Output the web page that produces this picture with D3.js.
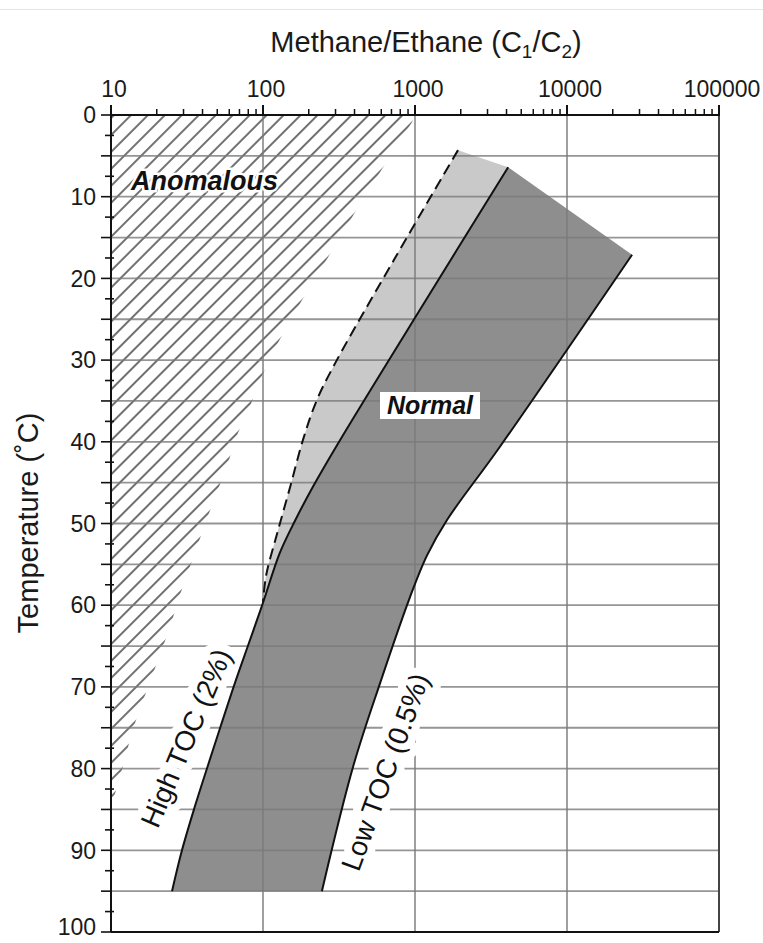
<!DOCTYPE html>
<html>
<head>
<meta charset="utf-8">
<script src="https://cdn.jsdelivr.net/npm/d3@7"></script>
<style>
  html, body { margin: 0; padding: 0; background: #fff; }
  svg { display: block; font-family: "Liberation Sans", Arial, Helvetica, sans-serif; }
</style>
</head>
<body>
<svg id="chart" width="763" height="943"></svg>
<script>
// ---------- data ----------
const xTickValues = [10, 100, 1000, 10000, 100000];
const xTickLabels = ["10", "100", "1000", "10000", "100000"];
const yTickValues = [0, 10, 20, 30, 40, 50, 60, 70, 80, 90, 100];
const yGridValues = [5, 10, 15, 20, 25, 30, 35, 40, 45, 50, 55, 60, 65, 70, 75, 80, 85, 90, 95];
const xGridValues = [100, 1000, 10000];

// [C1/C2, temperature °C]
const highTOC = [[4100, 6.4], [1140, 23.1], [321, 39.8], [213, 45.5], [163, 49.6], [129, 53.6],
  [100, 59.7], [80.9, 64.6], [65.4, 69.5], [52.9, 74.7], [43.1, 79.8], [35.4, 84.8], [29.3, 90],
  [25.2, 95]];
const lowTOC = [[26800, 17.1], [3620, 40.6], [1620, 49.6], [1200, 53.9], [927, 59], [590, 69.5],
  [391, 79.8], [244, 95]];
const upperBound = [[1919, 4.3], [750, 17.3], [298, 30.4], [226, 34.9], [183, 39.8], [151, 45.5],
  [124, 51.2], [105, 56.3], [100, 59.6]];
const anomalous = [[10, 0], [1000, 0], [955, 0.9], [617, 6.4], [403, 11.9], [268, 17.4], [181, 22.6],
  [126, 27.8], [95.6, 32.4], [82, 35.7], [68.5, 38.9], [59, 42.5], [50.4, 45.9], [43, 49.3],
  [27.6, 59.4], [24.5, 62.7], [21, 66], [18, 69.5], [15.5, 72.6], [13.7, 75.6], [12.4, 78.7],
  [11.1, 82], [10, 84.5]];

// ---------- layout ----------
const W = 763, H = 943;
const pL = 111, pR = 719, pT = 115, pB = 932;
const svg = d3.select("#chart");

const x = d3.scaleLog().domain([10, 100000]).range([pL, pR]);
const y = d3.scaleLinear().domain([0, 100]).range([pT, pB]);

const line = d3.line().x(d => x(d[0])).y(d => y(d[1]));
const smooth = d3.line().x(d => x(d[0])).y(d => y(d[1])).curve(d3.curveCatmullRom.alpha(0.5));
const cont = p => p.replace(/^M/, "L");

// label definitions (used for text and for grid gaps)
const rotLabels = [
  { text: "High TOC (2%)", cx: 186, cy: 738, rot: -67 },
  { text: "Low TOC (0.5%)", cx: 385, cy: 772, rot: -70 }
];

// separator line at very top
svg.append("line").attr("x1", 0).attr("x2", W).attr("y1", 9.5).attr("y2", 9.5)
  .attr("stroke", "#e4e4e4").attr("stroke-width", 1);

const defs = svg.append("defs");
// hatch pattern
const pat = defs.append("pattern").attr("id", "hatch").attr("patternUnits", "userSpaceOnUse")
  .attr("width", 12).attr("height", 12).attr("patternTransform", "rotate(45)");
pat.append("line").attr("x1", 6).attr("x2", 6).attr("y1", -2).attr("y2", 14)
  .attr("stroke", "#333").attr("stroke-width", 1.4);

// mask that cuts gaps around labels
const mask = defs.append("mask").attr("id", "gap").attr("maskUnits", "userSpaceOnUse")
  .attr("x", 0).attr("y", 0).attr("width", W).attr("height", H);
mask.append("rect").attr("width", W).attr("height", H).attr("fill", "#fff");
mask.selectAll("text.r").data(rotLabels).join("text").attr("class", "r")
  .attr("transform", d => `translate(${d.cx},${d.cy}) rotate(${d.rot})`)
  .attr("text-anchor", "middle").attr("dy", "0.35em").attr("font-size", 28)
  .attr("fill", "#000").attr("stroke", "#000").attr("stroke-width", 16).attr("stroke-linejoin", "round")
  .text(d => d.text);
mask.append("text").attr("x", 131).attr("y", 190).attr("font-size", 27).attr("font-weight", "bold")
  .attr("font-style", "italic").attr("fill", "#000").attr("stroke", "#000").attr("stroke-width", 5)
  .text("Anomalous");

const masked = svg.append("g").attr("mask", "url(#gap)");
masked.append("path").attr("d", line(anomalous) + "Z").attr("fill", "url(#hatch)");

// light band
const lightPath = smooth(upperBound) + cont(smooth(highTOC.filter(d => d[1] <= 59.7).slice().reverse())) + "Z";
svg.append("path").attr("d", lightPath).attr("fill", "#c9c9c9");

// dark band
const darkPath = smooth(highTOC) + cont(smooth(lowTOC.slice().reverse())) + "Z";
svg.append("path").attr("d", darkPath).attr("fill", "#8e8e8e");

// grid (masked around labels)
const grid = svg.append("g").attr("mask", "url(#gap)");
grid.selectAll("line.h").data(yGridValues).join("line").attr("class", "h")
  .attr("x1", pL).attr("x2", pR).attr("y1", d => y(d)).attr("y2", d => y(d))
  .attr("stroke", "#7a7a7a").attr("stroke-opacity", 0.8).attr("stroke-width", 1.8);
grid.selectAll("line.v").data(xGridValues).join("line").attr("class", "v")
  .attr("x1", d => x(d)).attr("x2", d => x(d)).attr("y1", pT).attr("y2", pB)
  .attr("stroke", "#7a7a7a").attr("stroke-opacity", 0.8).attr("stroke-width", 1.8);

// curves
svg.append("path").attr("d", smooth(highTOC)).attr("fill", "none").attr("stroke", "#111").attr("stroke-width", 2);
svg.append("path").attr("d", smooth(lowTOC)).attr("fill", "none").attr("stroke", "#111").attr("stroke-width", 2);
svg.append("path").attr("d", smooth(upperBound)).attr("fill", "none").attr("stroke", "#111")
  .attr("stroke-width", 2).attr("stroke-dasharray", "11,6");

// frame
svg.append("line").attr("x1", pR).attr("x2", pR).attr("y1", pT).attr("y2", pB)
  .attr("stroke", "#444").attr("stroke-width", 2);
svg.append("line").attr("x1", pL).attr("x2", pR).attr("y1", pT).attr("y2", pT)
  .attr("stroke", "#111").attr("stroke-width", 2);
svg.append("line").attr("x1", pL).attr("x2", pR).attr("y1", pB).attr("y2", pB)
  .attr("stroke", "#111").attr("stroke-width", 2);
svg.append("line").attr("x1", pL).attr("x2", pL).attr("y1", pT).attr("y2", pB)
  .attr("stroke", "#111").attr("stroke-width", 2);

// top axis (log) ticks
const minorX = [];
for (let e = 1; e < 5; e++) for (let k = 2; k <= 9; k++) minorX.push(k * Math.pow(10, e));
svg.append("g").selectAll("line").data(minorX).join("line")
  .attr("x1", d => x(d)).attr("x2", d => x(d)).attr("y1", pT - 6).attr("y2", pT + 1)
  .attr("stroke", "#111").attr("stroke-width", 1.5);
svg.append("g").selectAll("line").data(xTickValues).join("line")
  .attr("x1", d => x(d)).attr("x2", d => x(d)).attr("y1", pT - 10).attr("y2", pT + 1)
  .attr("stroke", "#111").attr("stroke-width", 2);
svg.append("g").selectAll("text").data(xTickValues).join("text")
  .attr("x", d => x(d) + 3).attr("y", 97).attr("text-anchor", "middle")
  .attr("font-size", 23).attr("fill", "#1a1a1a").text((d, i) => xTickLabels[i]);

// left axis ticks
const leftTicks = d3.range(0, 100.01, 2.5);
svg.append("g").selectAll("line").data(leftTicks).join("line")
  .attr("x1", d => (d % 5 === 0) ? pL - 10 : pL - 6)
  .attr("x2", d => (d % 5 === 0) ? pL : pL + 3)
  .attr("y1", d => y(d)).attr("y2", d => y(d))
  .attr("stroke", "#111").attr("stroke-width", 1.6);
svg.append("g").selectAll("text").data(yTickValues).join("text")
  .attr("x", pL - 15).attr("y", d => Math.min(y(d), 927)).attr("dy", "0.36em").attr("text-anchor", "end")
  .attr("font-size", 23).attr("fill", "#1a1a1a").text(d => d);

// axis titles
const t = svg.append("text").attr("x", 426).attr("y", 52).attr("text-anchor", "middle")
  .attr("font-size", 29).attr("fill", "#1a1a1a");
t.append("tspan").text("Methane/Ethane (C");
t.append("tspan").attr("font-size", 19).attr("dy", 6).text("1");
t.append("tspan").attr("dy", -6).text("/C");
t.append("tspan").attr("font-size", 19).attr("dy", 6).text("2");
t.append("tspan").attr("dy", -6).text(")");

svg.append("text").attr("transform", "translate(38,523) rotate(-90)").attr("text-anchor", "middle")
  .attr("font-size", 29).attr("fill", "#1a1a1a").text("Temperature (˚C)");

// labels
svg.append("text").attr("x", 131).attr("y", 190).attr("font-size", 27).attr("font-weight", "bold")
  .attr("font-style", "italic").attr("fill", "#111").text("Anomalous");

svg.append("rect").attr("x", 380).attr("y", 392).attr("width", 100).attr("height", 27).attr("fill", "#fff");
svg.append("text").attr("x", 430).attr("y", 414).attr("text-anchor", "middle").attr("font-size", 25)
  .attr("font-weight", "bold").attr("font-style", "italic").attr("fill", "#111").text("Normal");

svg.selectAll("text.rl").data(rotLabels).join("text").attr("class", "rl")
  .attr("transform", d => `translate(${d.cx},${d.cy}) rotate(${d.rot})`)
  .attr("text-anchor", "middle").attr("dy", "0.35em").attr("font-size", 28).attr("fill", "#111")
  .text(d => d.text);
</script>
</body>
</html>
